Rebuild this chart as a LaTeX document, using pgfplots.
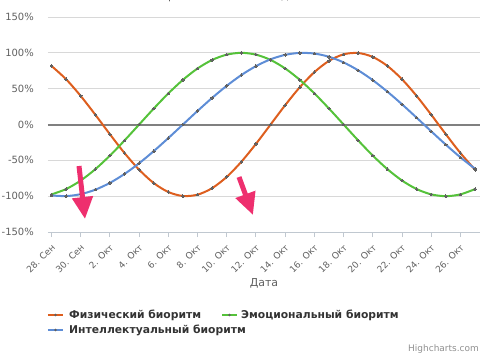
\documentclass[border=0pt]{standalone}
\usepackage{pgfplots}
\pgfplotsset{compat=1.18}
\usepackage{pgfplotstable}
\usepackage{fontspec}
\setmainfont{DejaVu Sans}
\usetikzlibrary{arrows.meta}
\definecolor{phys}{HTML}{DD5E1E}
\definecolor{emo}{HTML}{55C23A}
\definecolor{intel}{HTML}{5E8DD6}
\definecolor{markgray}{HTML}{606060}
\definecolor{gridgray}{HTML}{D8D8D8}
\definecolor{zerogray}{HTML}{808080}
\definecolor{labelgray}{HTML}{606060}
\definecolor{tickgray}{HTML}{C0C8D0}
\definecolor{legendtext}{HTML}{333333}
\definecolor{credit}{HTML}{909090}
\definecolor{arrowpink}{HTML}{EE2F6E}

\pgfplotstableread{
i phys emo intel
0 81.70 -97.49 -98.98
1 63.11 -90.10 -99.89
2 39.84 -78.18 -97.18
3 13.62 -62.35 -90.96
4 -13.62 -43.39 -81.46
5 -39.84 -22.25 -69.01
6 -63.11 0.00 -54.06
7 -81.70 22.25 -37.17
8 -94.23 43.39 -18.93
9 -99.77 62.35 0.00
10 -97.91 78.18 18.93
11 -88.79 90.10 37.17
12 -73.08 97.49 54.06
13 -51.96 100.00 69.01
14 -26.98 97.49 81.46
15 0.00 90.10 90.96
16 26.98 78.18 97.18
17 51.96 62.35 99.89
18 73.08 43.39 98.98
19 88.79 22.25 94.50
20 97.91 0.00 86.60
21 99.77 -22.25 75.57
22 94.23 -43.39 61.82
23 81.70 -62.35 45.82
24 63.11 -78.18 28.17
25 39.84 -90.10 9.51
26 13.62 -97.49 -9.51
27 -13.62 -100.00 -28.17
28 -39.84 -97.49 -45.82
29 -63.11 -90.10 -61.82
}\biodata

\begin{document}
\begin{tikzpicture}
\begin{axis}[
  scale only axis, width=432bp, height=215bp,
  xmin=-0.24, xmax=29.34, ymin=-150, ymax=150,
  clip=false,
  axis line style={draw=none},
  ytick={-150,-100,...,150},
  yticklabels={-150\%, -100\%, -50\%, 0\%, 50\%, 100\%, 150\%},
  yticklabel style={font=\fontsize{10}{12}\selectfont, text=labelgray, inner sep=0pt, anchor=east, xshift=-9bp},
  ytick style={draw=none},
  ymajorgrids, grid style={gridgray, line width=1bp},
  xtick={0,2,...,28},
  xticklabels={28. Сен, 30. Сен, 2. Окт, 4. Окт, 6. Окт, 8. Окт, 10. Окт, 12. Окт, 14. Окт, 16. Окт, 18. Окт, 20. Окт, 22. Окт, 24. Окт, 26. Окт},
  xticklabel style={font=\fontsize{9}{11}\selectfont, text=labelgray, inner sep=0pt, anchor=east, xshift=2bp, yshift=-9bp, rotate=45},
  xtick pos=bottom, tick align=outside, major tick length=5bp,
  xtick style={draw=tickgray, line width=1bp},
]
\draw[tickgray, line width=1bp] (rel axis cs:0,0) -- (rel axis cs:1,0);
\draw[zerogray, line width=2bp] (rel axis cs:0,0.5) -- (rel axis cs:1,0.5);
\addplot[phys, line width=2bp, smooth, mark=*, mark size=1.3bp, mark options={fill=markgray, draw=markgray, line width=0pt}] table[x=i, y=phys] {\biodata};
\addplot[emo, line width=2bp, smooth, mark=*, mark size=1.3bp, mark options={fill=markgray, draw=markgray, line width=0pt}] table[x=i, y=emo] {\biodata};
\addplot[intel, line width=2bp, smooth, mark=*, mark size=1.3bp, mark options={fill=markgray, draw=markgray, line width=0pt}] table[x=i, y=intel] {\biodata};
\end{axis}
\begin{scope}[shift={(current axis.south west)}]
\begin{scope}[x=1bp, y=-1bp, shift={(-48,-232)}]
  % arrows
  \draw[arrowpink, line width=5bp, -{Triangle[width=20bp, length=22bp]}] (79,166) -- (85,219);
  \draw[arrowpink, line width=5bp, -{Triangle[width=20bp, length=22bp]}] (239,177) -- (253,215);
  % title (cut)
  \node[anchor=base, font=\fontsize{11}{13}\selectfont, text=labelgray] at (227,-0.3) {За время жизни – 9990 дней};
  % axis title
  \node[font=\fontsize{11}{13}\selectfont, text=labelgray] at (264,283) {Дата};
  % legend
  \draw[phys, line width=2bp] (48,315) -- (63,315);
  \fill[markgray] (55.5,315) circle (1.3bp);
  \node[anchor=west, inner sep=0pt, font=\fontsize{10.8}{13}\selectfont\bfseries, text=legendtext] at (69,315) {Физический биоритм};
  \draw[emo, line width=2bp] (222,315) -- (237,315);
  \fill[markgray] (229.5,315) circle (1.3bp);
  \node[anchor=west, inner sep=0pt, font=\fontsize{10.8}{13}\selectfont\bfseries, text=legendtext] at (241,315) {Эмоциональный биоритм};
  \draw[intel, line width=2bp] (48,330) -- (63,330);
  \fill[markgray] (55.5,330) circle (1.3bp);
  \node[anchor=west, inner sep=0pt, font=\fontsize{10.8}{13}\selectfont\bfseries, text=legendtext] at (69,330) {Интеллектуальный биоритм};
  % credit
  \node[anchor=base east, inner sep=0pt, font=\fontsize{9}{11}\selectfont, text=credit] at (479,351) {Highcharts.com};
  \pgfresetboundingbox
  \path[use as bounding box] (0,0) rectangle (484,354);
\end{scope}
\end{scope}
\end{tikzpicture}
\end{document}
